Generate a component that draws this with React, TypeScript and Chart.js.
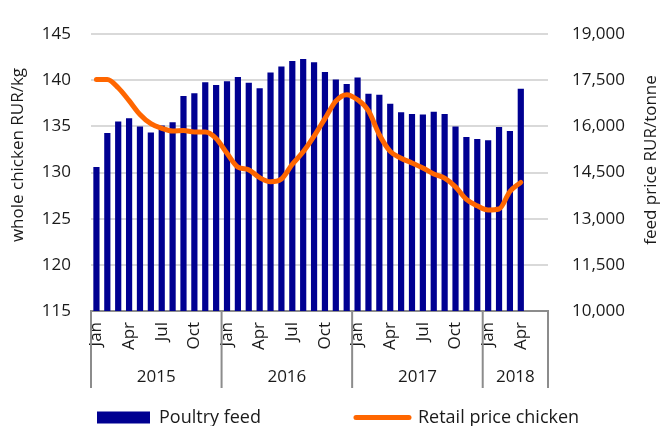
import React, { useEffect, useRef } from "react";
import { Chart, registerables } from "chart.js";

Chart.register(...registerables);

const MONTHS = ["Jan", "Feb", "Mar", "Apr", "May", "Jun", "Jul", "Aug", "Sep", "Oct", "Nov", "Dec"];
const YEARS = ["2015", "2016", "2017", "2018"];
const YEAR_MONTHS = [12, 12, 12, 6];
const SHOWN_MONTHS = ["Jan", "Apr", "Jul", "Oct"];

// Poultry feed, RUR/tonne (right axis), Jan 2015 - Apr 2018
const poultryFeed = [
  14680, 15790, 16165, 16270, 16000, 15805, 16030, 16135, 16990, 17080, 17440, 17350,
  17470, 17605, 17425, 17245, 17755, 17950, 18130, 18190, 18085, 17770, 17530, 17380,
  17590, 17065, 17035, 16735, 16465, 16405, 16390, 16480, 16405, 16000, 15655, 15595,
  15550, 15985, 15850, 17230, null, null,
];

// Retail price chicken, RUR/kg (left axis)
const retailChicken = [
  140.1, 140.1, 139.2, 137.8, 136.3, 135.3, 134.8, 134.5, 134.55, 134.4, 134.4, 133.7,
  132.1, 130.6, 130.3, 129.45, 129.0, 129.3, 130.9, 132.25, 133.95, 135.85, 137.75, 138.45,
  137.9, 136.7, 134.1, 132.3, 131.55, 131.05, 130.5, 129.85, 129.4, 128.45, 127.1, 126.4,
  125.95, 126.05, 127.95, 128.95, null, null,
];

const labels: string[] = [];
YEARS.forEach((y, yi) => {
  for (let m = 0; m < YEAR_MONTHS[yi]; m++) labels.push(MONTHS[m] + " " + y);
});

const FONT = "'Open Sans', 'Noto Sans', sans-serif";
const TEXT = "#1a1a1a";
const FS = 17;
const LEGEND_PAD = 95;

const decorPlugin = {
  id: "decor",
  afterLayout(chart: any) {
    const lg = chart.legend;
    if (lg) {
      lg.top = 408.5 - LEGEND_PAD;
      lg.left = 97 - LEGEND_PAD;
      lg.right = 2000;
    }
  },
  afterDraw(chart: any) {
    const ctx = chart.ctx;
    const x = chart.scales.x;
    const area = chart.chartArea;
    const half = (x.getPixelForValue(1) - x.getPixelForValue(0)) / 2;
    ctx.save();
    ctx.strokeStyle = "#8c8c8c";
    ctx.lineWidth = 2;
    let start = 0;
    const bounds: number[] = [x.getPixelForValue(0) - half];
    YEAR_MONTHS.forEach((n) => {
      start += n;
      bounds.push(x.getPixelForValue(start - 1) + half);
    });
    bounds.forEach((bx) => {
      ctx.beginPath();
      ctx.moveTo(bx, area.bottom);
      ctx.lineTo(bx, 388);
      ctx.stroke();
    });
    ctx.fillStyle = TEXT;
    ctx.font = FS + "px " + FONT;
    ctx.textAlign = "center";
    ctx.textBaseline = "middle";
    YEARS.forEach((y, i) => {
      ctx.fillText(y, (bounds[i] + bounds[i + 1]) / 2, 377);
    });
    ctx.save();
    ctx.translate(18, 155);
    ctx.rotate(-Math.PI / 2);
    ctx.fillText("whole chicken RUR/kg", 0, 0);
    ctx.restore();
    ctx.save();
    ctx.translate(651, 160);
    ctx.rotate(-Math.PI / 2);
    ctx.fillText("feed price RUR/tonne", 0, 0);
    ctx.restore();
    ctx.restore();
  },
};

export default function App() {
  const ref = useRef<HTMLCanvasElement>(null);
  useEffect(() => {
    if (!ref.current) return;
    const chart = new Chart(ref.current, {
      type: "bar",
      data: {
        labels,
        datasets: [
          {
            type: "bar",
            label: "Poultry feed",
            data: poultryFeed as any,
            yAxisID: "y1",
            backgroundColor: "#000091",
            borderWidth: 0,
            barPercentage: 0.57,
            categoryPercentage: 1,
            order: 1,
          },
          {
            type: "line",
            label: "Retail price chicken",
            data: retailChicken as any,
            yAxisID: "y",
            borderColor: "#ff6600",
            backgroundColor: "#ff6600",
            borderWidth: 5,
            borderCapStyle: "round",
            borderJoinStyle: "round",
            pointRadius: 0,
            cubicInterpolationMode: "monotone",
            order: 0,
          } as any,
        ],
      },
      options: {
        responsive: false,
        animation: false,
        layout: { padding: { top: 23, left: 0, right: 0, bottom: 0 } },
        plugins: {
          tooltip: { enabled: false },
          legend: {
            position: "bottom",
            align: "start",
            maxHeight: 20,
            labels: {
              usePointStyle: true,
              pointStyleWidth: 53,
              boxHeight: 12,
              padding: LEGEND_PAD,
              color: TEXT,
              font: { family: FONT, size: 18 },
              sort: (a: any, b: any) => a.datasetIndex - b.datasetIndex,
              generateLabels: (c: any) => {
                const items = (Chart.defaults.plugins.legend.labels as any).generateLabels(c);
                return items.map((it: any) =>
                  it.datasetIndex === 0
                    ? { ...it, pointStyle: "rect", lineWidth: 0 }
                    : { ...it, pointStyle: "line", lineWidth: 5, strokeStyle: "#ff6600", lineCap: "round" }
                );
              },
            },
          } as any,
        },
        scales: {
          x: {
            grid: { display: false, drawTicks: false },
            border: { display: true, color: "#8c8c8c", width: 2 },
            ticks: {
              autoSkip: false,
              maxRotation: 90,
              minRotation: 90,
              padding: 11,
              color: TEXT,
              font: { family: FONT, size: FS },
              callback: (_v: any, i: number) => {
                const m = MONTHS[i % 12];
                return SHOWN_MONTHS.includes(m) ? m : "";
              },
            },
            afterFit: (s: any) => {
              s.height = 95;
            },
          },
          y: {
            position: "left",
            min: 115,
            max: 145,
            ticks: { stepSize: 5, padding: 20, color: TEXT, font: { family: FONT, size: FS } },
            grid: { color: "#d9d9d9", lineWidth: 2, drawTicks: false },
            border: { display: false },
            afterFit: (s: any) => {
              s.width = 91;
            },
          },
          y1: {
            position: "right",
            min: 10000,
            max: 19000,
            ticks: {
              stepSize: 1500,
              padding: 24,
              color: TEXT,
              font: { family: FONT, size: FS },
              callback: (v: any) => Number(v).toLocaleString("en-US"),
            },
            grid: { display: false, drawTicks: false },
            border: { display: false },
            afterFit: (s: any) => {
              s.width = 114;
            },
          },
        },
      },
      plugins: [decorPlugin],
    });
    return () => chart.destroy();
  }, []);
  return (
    <div style={{ position: "absolute", left: 0, top: 0, width: 662, height: 426, background: "#fff" }}>
      <canvas ref={ref} width={662} height={426} />
    </div>
  );
}
